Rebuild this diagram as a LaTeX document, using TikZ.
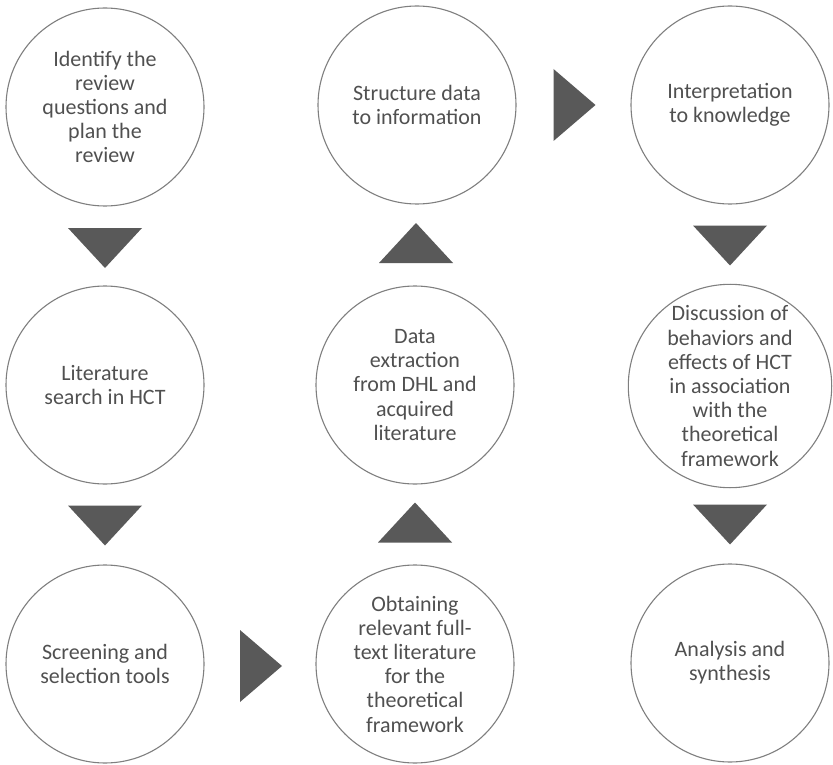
\documentclass[tikz,border=0pt]{standalone}
\usepackage{fontspec}
\setmainfont{Carlito}
\usetikzlibrary{calc}
\definecolor{ringgray}{HTML}{7F7F7F}
\definecolor{textgray}{HTML}{505050}
\definecolor{trigray}{HTML}{595959}
\begin{document}
\begin{tikzpicture}[x=1pt,y=-1pt,
  stage/.style={circle,draw=ringgray,line width=1.1pt,minimum size=198pt,inner sep=0pt,
    align=center,text=textgray,font=\fontsize{22}{24.2}\selectfont},
  tri/.style={fill=trigray,draw=none}]
\useasboundingbox (0,0) rectangle (833,765);
% circles
\node[stage] (s1) at (105,107) {Identify the\\review\\questions and\\plan the\\review};
\node[stage] (s2) at (105,385) {Literature\\search in HCT};
\node[stage] (s3) at (105,664) {Screening and\\selection tools};
\node[stage] (s4) at (415,664) {Obtaining\\relevant full-\\text literature\\for the\\theoretical\\framework};
\node[stage] (s5) at (415,385) {Data\\extraction\\from DHL and\\acquired\\literature};
\node[stage] (s6) at (417,105) {Structure data\\to information};
\node[stage] (s7) at (730,105) {Interpretation\\to knowledge};
\node[stage] (s8) at (730,386) {Discussion of\\behaviors and\\effects of HCT\\in association\\with the\\theoretical\\framework};
\node[stage] (s9) at (730,663) {Analysis and\\synthesis};
% midpoints between consecutive stages
\coordinate (m12) at ($(s1)!0.5!(s2)+(0,2)$);
\coordinate (m23) at ($(s2)!0.5!(s3)+(0,1)$);
\coordinate (m34) at ($(s3)!0.5!(s4)+(1,2)$);
\coordinate (m45) at ($(s4)!0.5!(s5)+(0,-2)$);
\coordinate (m56) at ($(s5)!0.5!(s6)+(0,-2)$);
\coordinate (m67) at ($(s6)!0.5!(s7)+(1,0)$);
\coordinate (m78) at ($(s7)!0.5!(s8)+(0,0)$);
\coordinate (m89) at ($(s8)!0.5!(s9)+(0,0)$);
% down triangles
\foreach \m in {m12,m23,m78,m89}{
  \fill[tri] ($(\m)+(-37,-20)$) -- ($(\m)+(37,-20)$) -- ($(\m)+(0,20)$) -- cycle;}
% up triangles
\foreach \m in {m45,m56}{
  \fill[tri] ($(\m)+(-37,20)$) -- ($(\m)+(37,20)$) -- ($(\m)+(0,-20)$) -- cycle;}
% right triangles
\foreach \m in {m34,m67}{
  \fill[tri] ($(\m)+(-21,-36)$) -- ($(\m)+(-21,36)$) -- ($(\m)+(21,0)$) -- cycle;}
\end{tikzpicture}
\end{document}
